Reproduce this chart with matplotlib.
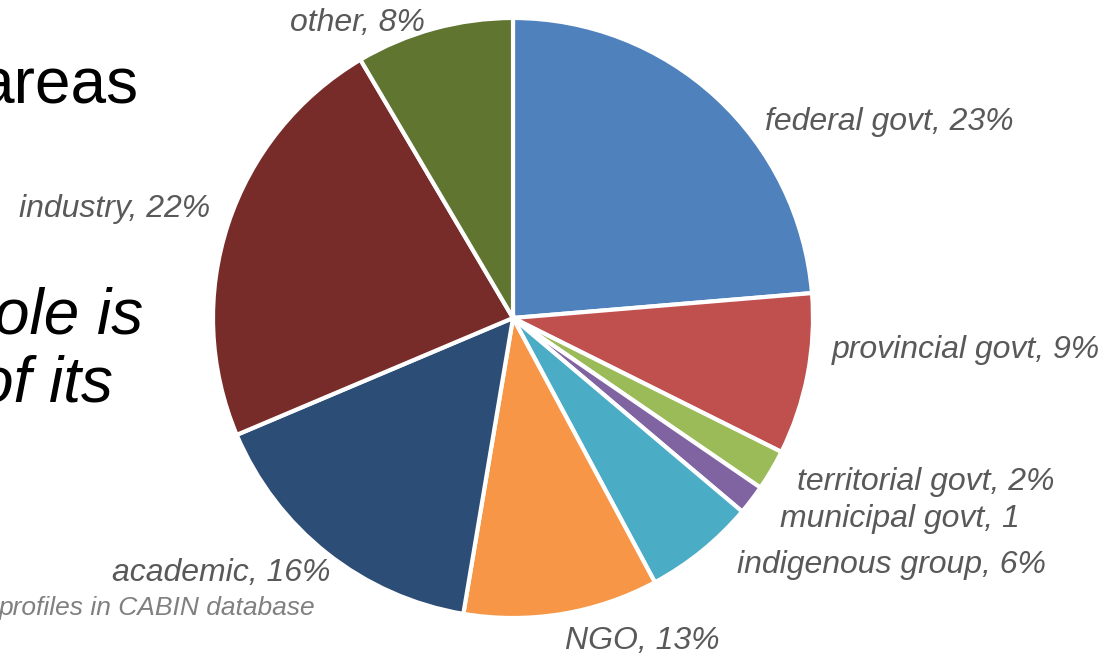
import matplotlib
matplotlib.use("Agg")
import matplotlib.pyplot as plt

# Data (slice sizes as drawn in the reference; labels as printed)
categories = ["federal govt", "provincial govt", "territorial govt", "municipal govt",
              "indigenous group", "NGO", "academic", "industry", "other"]
shares = [23.7, 8.7, 2.2, 1.6, 6.0, 10.5, 16.0, 22.9, 8.5]
label_texts = ["federal govt, 23%", "provincial govt, 9%", "territorial govt, 2%",
               "municipal govt, 1", "indigenous group, 6%", "NGO, 13%",
               "academic, 16%", "industry, 22%", "other, 8%"]
colors = ["#4F81BD", "#C0504D", "#9BBB59", "#8064A2", "#4BACC6",
          "#F79646", "#2C4D75", "#772C2A", "#5F7530"]

W, H = 1106, 654
plt.rcParams['font.family'] = ['Liberation Sans', 'DejaVu Sans']
fig = plt.figure(figsize=(W / 100, H / 100), dpi=100)
ax = fig.add_axes([0, 0, 1, 1])

ax.pie(shares, colors=colors, startangle=90, counterclock=False,
       center=(513, H - 318), radius=300,
       wedgeprops=dict(edgecolor='white', linewidth=3))
ax.set_xlim(0, W)
ax.set_ylim(0, H)
ax.set_aspect('equal')
ax.axis('off')

def ptext(x, y, s, ha, size, color, style='italic'):
    ax.text(x, H - y, s, ha=ha, va='baseline', fontsize=size, color=color,
            fontstyle=style)

# Slice labels (placement in pixel space)
label_pos = [(765, 130, 'left'), (832, 358, 'left'), (797, 490, 'left'),
             (780, 527, 'left'), (737, 573, 'left'), (565, 649, 'left'),
             (331, 581, 'right'), (210, 217, 'right'), (425, 31, 'right')]
for (x, y, ha), t in zip(label_pos, label_texts):
    ptext(x, y, t, ha, 23, '#595959')

# Background slide text (cut off)
ptext(138, 103, "areas", 'right', 46, 'black', style='normal')
ptext(143, 333, "ole is", 'right', 46, 'black')
ptext(113, 402, "of its", 'right', 46, 'black')
ptext(315, 615, "profiles in CABIN database", 'right', 19, '#808080')

fig.savefig("out.png", dpi=100)
